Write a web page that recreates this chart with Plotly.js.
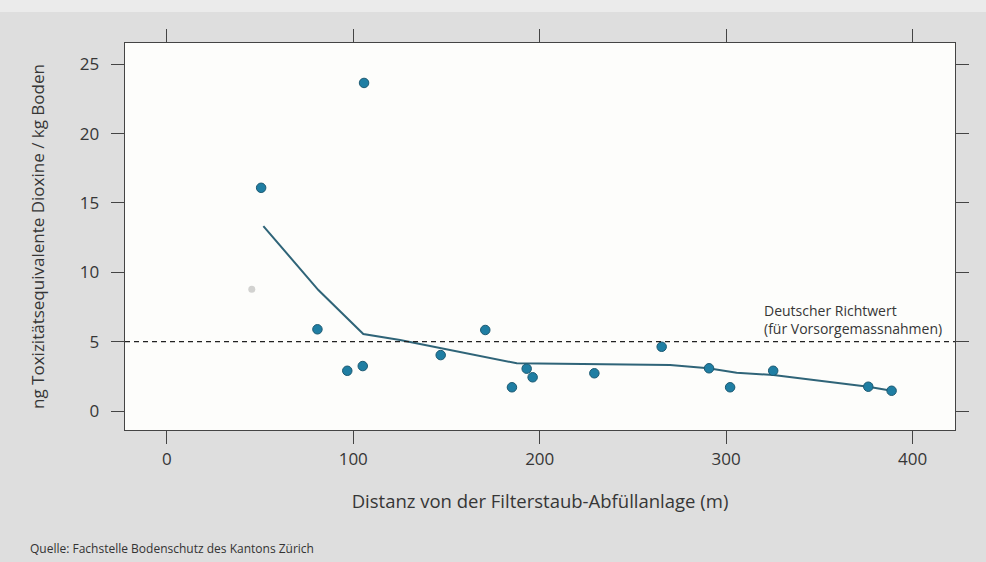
<!DOCTYPE html>
<html>
<head>
<meta charset="utf-8">
<script src="https://cdn.plot.ly/plotly-3.0.1.min.js"></script>
<style>html,body{margin:0;padding:0;background:#dedede;}#chart{width:986px;height:562px;}</style>
</head>
<body>
<div id="chart"></div>
<script>
// Measured points: distance (m) and dioxin TEQ (ng / kg soil)
const distance = [50.6, 105.8, 80.8, 96.8, 105.1, 146.9, 170.8, 185.1, 193.0, 196.2, 229.3, 265.4, 290.8, 302.1, 325.2, 376.2, 388.7];
const teq      = [16.09, 23.65, 5.89, 2.90, 3.24, 4.03, 5.84, 1.71, 3.05, 2.43, 2.72, 4.63, 3.08, 1.71, 2.90, 1.75, 1.46];
// Faded point (barely visible in the print)
const fadedX = [45.6];
const fadedY = [8.77];
// Smoothed trend line
const smoothX = [51.8, 81.3, 105.4, 125.1, 187.7, 243.1, 269.9, 290.4, 305.6, 325.3, 376.2, 388.7];
const smoothY = [13.33, 8.72, 5.55, 5.12, 3.44, 3.36, 3.31, 3.08, 2.76, 2.59, 1.75, 1.46];
// Reference value
const richtwert = 5;
const xTicks = [0, 100, 200, 300, 400];
const yTicks = [0, 5, 10, 15, 20, 25];

const font = "'Open Sans', 'Noto Sans', sans-serif";
const txt = '#363636';

const traces = [
  {x: fadedX, y: fadedY, type: 'scatter', mode: 'markers',
   marker: {size: 7, color: '#d2d2d0'}, hoverinfo: 'skip', showlegend: false},
  {x: smoothX, y: smoothY, type: 'scatter', mode: 'lines',
   line: {color: '#2f6478', width: 2}, showlegend: false},
  {x: distance, y: teq, type: 'scatter', mode: 'markers',
   marker: {size: 9.5, color: '#1f7ea3', line: {color: '#1d5a72', width: 1}}, showlegend: false}
];

const axisCommon = {
  showgrid: false, zeroline: false, showline: true, linecolor: '#444', linewidth: 1.3,
  ticks: 'outside', ticklen: 13, tickwidth: 1, tickcolor: '#444', mirror: 'ticks',
  tickfont: {family: font, size: 17, color: txt}
};

const layout = {
  width: 986, height: 562,
  margin: {l: 125, r: 31, t: 43, b: 132},
  paper_bgcolor: '#dedede', plot_bgcolor: '#fdfdfb',
  xaxis: Object.assign({}, axisCommon, {
    range: [-22.4, 422.7], tickvals: xTicks, ticktext: xTicks.map(String),
    ticklabelstandoff: 0,
    title: {text: 'Distanz von der Filterstaub-Abfüllanlage (m)', font: {family: font, size: 18.5, color: txt}, standoff: 26}
  }),
  yaxis: Object.assign({}, axisCommon, {
    range: [-1.37, 26.53], tickvals: yTicks, ticktext: yTicks.map(String),
    ticklabelstandoff: 8,
    title: {text: 'ng Toxizitätsequivalente Dioxine / kg Boden', font: {family: font, size: 17, color: txt}, standoff: 31}
  }),
  shapes: [
    {type: 'rect', xref: 'paper', yref: 'paper', x0: -0.2, x1: 1.1, y0: 1.08, y1: 1.2, fillcolor: '#ebebeb', line: {width: 0}, layer: 'below'},
    {type: 'line', xref: 'paper', yref: 'y', x0: 0, x1: 1, y0: richtwert, y1: richtwert,
     line: {color: '#222', width: 1.2, dash: '5px,4px'}}
  ],
  annotations: [
    {xref: 'x', yref: 'y', x: 319.2, y: richtwert, xanchor: 'left', yanchor: 'bottom', yshift: 2,
     align: 'left', showarrow: false, text: 'Deutscher Richtwert<br>(für Vorsorgemassnahmen)',
     font: {family: font, size: 14, color: txt}},
    {xref: 'paper', yref: 'paper', x: -0.117, y: -0.305, xanchor: 'left', yanchor: 'middle',
     showarrow: false, text: 'Quelle: Fachstelle Bodenschutz des Kantons Zürich',
     font: {family: font, size: 12, color: '#333'}}
  ]
};

Plotly.newPlot('chart', traces, layout, {displayModeBar: false, staticPlot: true});
</script>
</body>
</html>
